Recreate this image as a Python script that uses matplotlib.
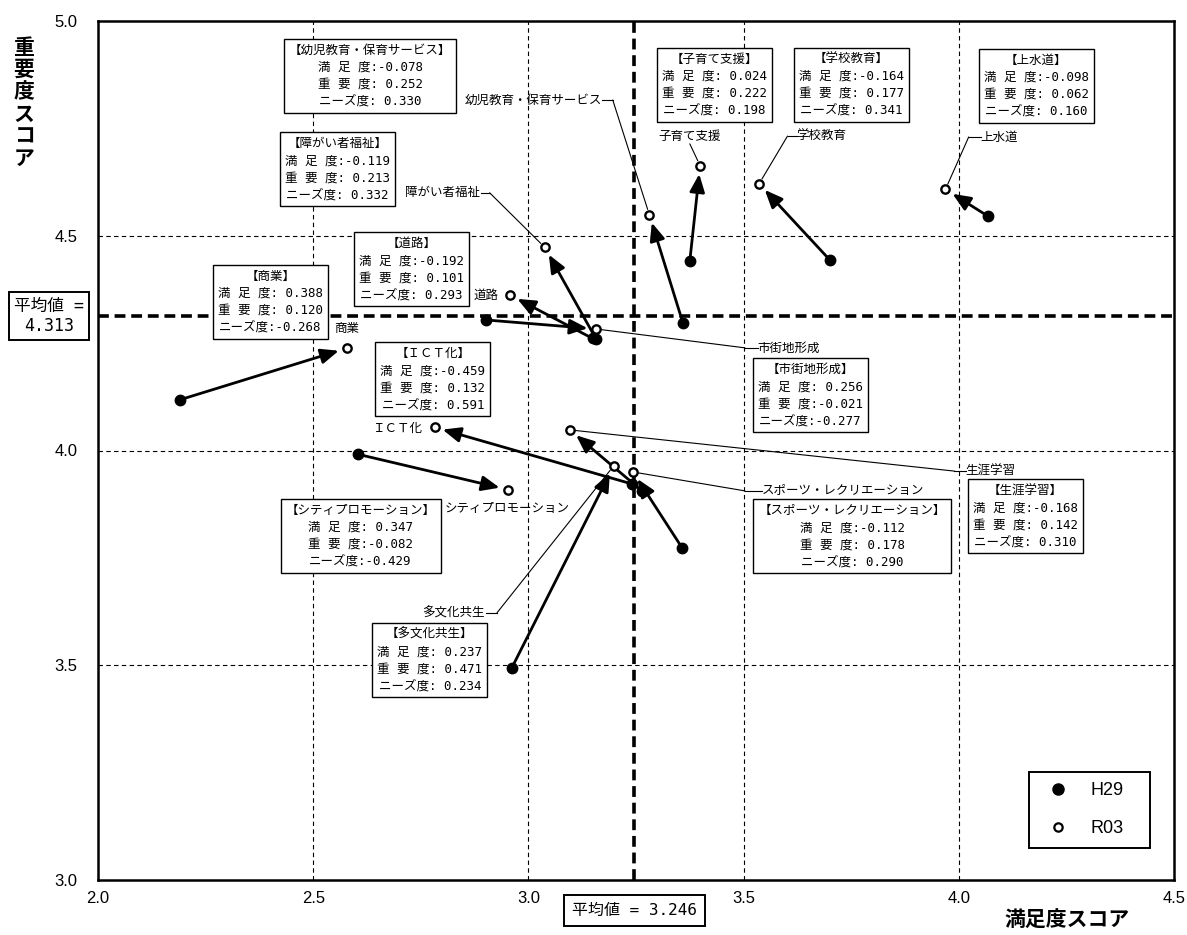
import matplotlib
matplotlib.use('Agg')
import matplotlib.pyplot as plt
import matplotlib.transforms as mtransforms
from matplotlib.lines import Line2D

# ---------------- data ----------------
items = ['上水道', '学校教育', '子育て支援', '幼児教育・保育サービス', '障がい者福祉', '道路',
         '商業', '市街地形成', 'ＩＣＴ化', '生涯学習', 'スポーツ・レクリエーション',
         'シティプロモーション', '多文化共生']
h29_sat = [4.067, 3.700, 3.375, 3.359, 3.157, 3.149, 2.190, 2.901, 3.241, 3.264, 3.358, 2.605, 2.961]
h29_imp = [4.546, 4.444, 4.441, 4.297, 4.260, 4.261, 4.118, 4.304, 3.922, 3.906, 3.772, 3.991, 3.493]
r03_sat = [3.969, 3.536, 3.399, 3.281, 3.038, 2.957, 2.578, 3.157, 2.782, 3.096, 3.243, 2.952, 3.198]
r03_imp = [4.608, 4.621, 4.663, 4.549, 4.473, 4.362, 4.238, 4.283, 4.054, 4.048, 3.950, 3.909, 3.964]
d_sat = [-0.098, -0.164, 0.024, -0.078, -0.119, -0.192, 0.388, 0.256, -0.459, -0.168, -0.112, 0.347, 0.237]
d_imp = [0.062, 0.177, 0.222, 0.252, 0.213, 0.101, 0.120, -0.021, 0.132, 0.142, 0.178, -0.082, 0.471]
needs = [0.160, 0.341, 0.198, 0.330, 0.332, 0.293, -0.268, -0.277, 0.591, 0.310, 0.290, -0.429, 0.234]
mean_sat = 3.246
mean_imp = 4.313
x_ticks = [2.0, 2.5, 3.0, 3.5, 4.0, 4.5]
y_ticks = [3.0, 3.5, 4.0, 4.5, 5.0]
series_names = ['H29', 'R03']

# ---------------- layout (annotation placement) ----------------
label_layout = {
    '上水道': dict(xy=(4.051, 4.730), ha='left', elbow=[(4.051, 4.730), (4.023, 4.730)]),
    '学校教育': dict(xy=(3.623, 4.732), ha='left', elbow=[(3.623, 4.732), (3.602, 4.732)]),
    '子育て支援': dict(xy=(3.375, 4.732), ha='center', elbow=[(3.375, 4.714)]),
    '幼児教育・保育サービス': dict(xy=(3.170, 4.816), ha='right', elbow=[(3.172, 4.816), (3.196, 4.816)]),
    '障がい者福祉': dict(xy=(2.887, 4.600), ha='right', elbow=[(2.889, 4.600), (2.910, 4.600)]),
    '道路': dict(xy=(2.931, 4.362), ha='right', elbow=None),
    '商業': dict(xy=(2.548, 4.283), ha='left', elbow=None),
    '市街地形成': dict(xy=(3.533, 4.239), ha='left', elbow=[(3.533, 4.239), (3.503, 4.239)]),
    'ＩＣＴ化': dict(xy=(2.755, 4.052), ha='right', elbow=None),
    '生涯学習': dict(xy=(4.016, 3.952), ha='left', elbow=[(4.016, 3.952), (3.990, 3.952)]),
    'スポーツ・レクリエーション': dict(xy=(3.542, 3.906), ha='left', elbow=[(3.542, 3.906), (3.503, 3.906)]),
    'シティプロモーション': dict(xy=(2.806, 3.864), ha='left', elbow=None),
    '多文化共生': dict(xy=(2.899, 3.622), ha='right', elbow=[(2.901, 3.622), (2.927, 3.622)]),
}
box_layout = {
    '上水道': (4.180, 4.849), '学校教育': (3.751, 4.851), '子育て支援': (3.432, 4.851),
    '幼児教育・保育サービス': (2.632, 4.873), '障がい者福祉': (2.557, 4.655), '道路': (2.728, 4.422),
    '商業': (2.401, 4.346), '市街地形成': (3.655, 4.129), 'ＩＣＴ化': (2.778, 4.166),
    '生涯学習': (4.154, 3.847), 'スポーツ・レクリエーション': (3.752, 3.800),
    'シティプロモーション': (2.610, 3.801), '多文化共生': (2.771, 3.512),
}

JP = ['Noto Sans CJK JP', 'DejaVu Sans']
BOXFONT = ['DejaVu Sans Mono', 'Noto Sans CJK JP']
NARROW = ['Liberation Sans Narrow', 'Liberation Sans', 'DejaVu Sans']

fig = plt.figure(figsize=(11.87, 9.35), dpi=100)
ax = fig.add_axes([98 / 1187, 55 / 935, 1076 / 1187, 859 / 935])
ax.set_xlim(x_ticks[0], x_ticks[-1])
ax.set_ylim(y_ticks[0], y_ticks[-1])
ax.set_xticks(x_ticks)
ax.set_yticks(y_ticks)
ax.set_xticklabels([f'{v:.1f}' for v in x_ticks], family=NARROW, fontsize=12)
ax.set_yticklabels([f'{v:.1f}' for v in y_ticks], family=NARROW, fontsize=12)
ax.tick_params(axis='both', length=0)
ax.tick_params(axis='y', pad=15)
ax.tick_params(axis='x', pad=8)
for s in ax.spines.values():
    s.set_linewidth(1.8)
    s.set_color('black')
    s.set_zorder(10)

# grid
for xv in x_ticks[1:-1]:
    ax.axvline(xv, color='black', lw=0.8, ls=(0, (4, 3)), zorder=1)
for yv in y_ticks[1:-1]:
    ax.axhline(yv, color='black', lw=0.8, ls=(0, (4, 3)), zorder=1)
# mean lines
ax.axvline(mean_sat, color='black', lw=2.6, ls=(0, (3, 1.6)), zorder=2)
ax.axhline(mean_imp, color='black', lw=2.6, ls=(0, (3, 1.6)), zorder=2)

# arrows
for i in range(len(items)):
    ax.annotate('', xy=(r03_sat[i], r03_imp[i]), xytext=(h29_sat[i], h29_imp[i]),
                arrowprops=dict(arrowstyle='-|>,head_length=0.9,head_width=0.38', lw=2,
                                color='black', shrinkA=0, shrinkB=6, mutation_scale=12),
                zorder=4)

ax.plot(h29_sat, h29_imp, 'o', ms=7.5, color='black', zorder=5, label=series_names[0])
ax.plot(r03_sat, r03_imp, 'o', ms=6, mfc='white', mec='black', mew=1.7, zorder=5, label=series_names[1])

# name labels and leaders
for i, name in enumerate(items):
    lay = label_layout[name]
    ax.text(lay['xy'][0], lay['xy'][1], name, ha=lay['ha'], va='center',
            family=JP, fontsize=9, zorder=7)
    if lay['elbow']:
        pts = lay['elbow']
        if len(pts) > 1:
            ax.plot([p[0] for p in pts], [p[1] for p in pts], color='black', lw=0.8, zorder=6)
        ax.annotate('', xy=(r03_sat[i], r03_imp[i]), xytext=pts[-1],
                    arrowprops=dict(arrowstyle='-', lw=0.8, color='black', shrinkA=0, shrinkB=4),
                    zorder=6)

# info boxes
for i, name in enumerate(items):
    bx, by = box_layout[name]
    txt = '\n'.join([f'【{name}】',
                     f'満 足 度:{d_sat[i]:6.3f}',
                     f'重 要 度:{d_imp[i]:6.3f}',
                     f'ニーズ度:{needs[i]:6.3f}'])
    ax.text(bx, by, txt, ha='center', va='center', multialignment='center',
            family=BOXFONT, fontsize=9, linespacing=1.4, zorder=8,
            bbox=dict(boxstyle='square,pad=0.4', fc='white', ec='black', lw=1.0))

# mean labels
tr_y = mtransforms.blended_transform_factory(ax.transAxes, ax.transData)
ax.text(-0.0455, mean_imp, f'平均値 =\n{mean_imp:.3f}', transform=tr_y, ha='center', va='center',
        family=BOXFONT, fontsize=12, linespacing=1.15, clip_on=False, zorder=9,
        bbox=dict(boxstyle='square,pad=0.3', fc='white', ec='black', lw=1.4))
tr_x = mtransforms.blended_transform_factory(ax.transData, ax.transAxes)
ax.text(mean_sat, -0.035, f'平均値 = {mean_sat:.3f}', transform=tr_x, ha='center', va='center',
        family=BOXFONT, fontsize=11.5, clip_on=False, zorder=9,
        bbox=dict(boxstyle='square,pad=0.5', fc='white', ec='black', lw=1.4))

# axis titles
fig.text(24 / 1187, 1 - 103 / 935, '\n'.join('重要度スコア'), ha='center', va='center',
         family=JP, fontsize=15, fontweight='bold', linespacing=1.08)
fig.text(1130 / 1187, 1 - 920 / 935, '満足度スコア', ha='right', va='center',
         family=JP, fontsize=15, fontweight='bold')

# legend
handles = [Line2D([], [], marker='o', ls='none', ms=8, color='black'),
           Line2D([], [], marker='o', ls='none', ms=6, mfc='white', mec='black', mew=1.6)]
leg = ax.legend(handles, series_names, loc='lower left',
                bbox_to_anchor=((1029 - 98) / 1076, 32 / 859, 121 / 1076, 76 / 859),
                mode='expand', borderaxespad=0,
                frameon=True, fancybox=False, edgecolor='black', framealpha=1,
                prop=dict(family=NARROW, size=13), borderpad=0.6, labelspacing=1.15,
                handlelength=2.0, handletextpad=0.8)
leg.get_frame().set_linewidth(1.4)
leg.set_zorder(11)

fig.savefig('out.png', dpi=100)
